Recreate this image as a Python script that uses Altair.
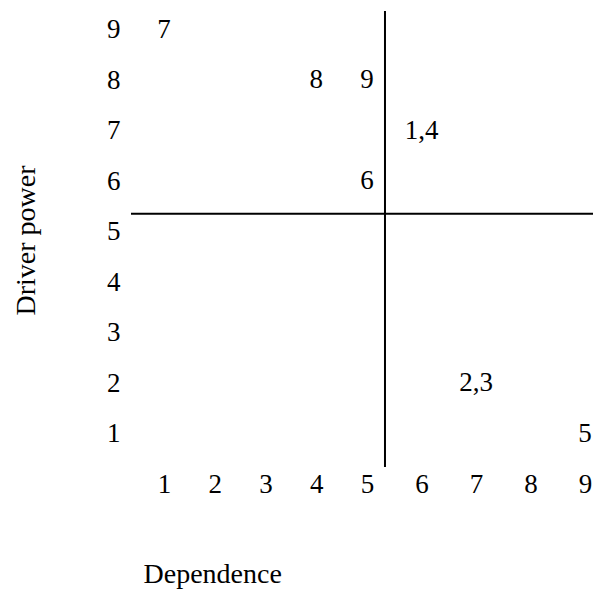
import altair as alt
import pandas as pd

# Variables plotted in the driver power / dependence matrix
var_labels = ["7", "8", "9", "1,4", "6", "2,3", "5"]
dependence = [1, 4, 5, 6, 5, 7, 9]
driver_power = [9, 8, 8, 7, 6, 2, 1]

# Tick labels
tick_values = [1, 2, 3, 4, 5, 6, 7, 8, 9]

# Quadrant dividers (data units)
dep_split = [5.33]
drv_split = [5.36]

FONT = "Liberation Serif"
FS = 27
TFS = 28
W, H = 462, 470

df = pd.DataFrame({"label": var_labels, "dep": dependence, "drv": driver_power})

# piecewise-linear x scale (the original grid is slightly wider on the right half)
xscale = alt.Scale(domain=[1, 5, 9], range=[33, 236, 454], nice=False, zero=False)
yscale = alt.Scale(domain=[0.287, 9.594], nice=False, zero=False)

xaxis = alt.Axis(
    values=tick_values, format="d", domain=False, ticks=False, grid=False,
    labelFont=FONT, labelFontSize=FS, labelColor="black", labelPadding=1,
    labelFlush=False, labelOverlap=False,
    title="Dependence", titleFont=FONT, titleFontSize=TFS, titleFontWeight="normal",
    titleColor="black", titleAlign="left", titleBaseline="alphabetic",
    titleX=12, titleY=112,
)
yaxis = alt.Axis(
    values=tick_values, format="d", domain=False, ticks=False, grid=False,
    labelFont=FONT, labelFontSize=FS, labelColor="black", labelPadding=11,
    labelFlush=False, labelOverlap=False, labelBaseline="middle",
    title="Driver power", titleFont=FONT, titleFontSize=TFS, titleFontWeight="normal",
    titleColor="black", titleAlign="center", titleBaseline="middle", titleAngle=-90,
    titleX=-105, titleY=240,
)

points = alt.Chart(df).mark_text(
    font=FONT, fontSize=FS, color="black", align="center", baseline="middle"
).encode(
    x=alt.X("dep:Q", scale=xscale, axis=xaxis),
    y=alt.Y("drv:Q", scale=yscale, axis=yaxis),
    text="label:N",
)

vline = alt.Chart(pd.DataFrame({"v": dep_split})).mark_rule(
    color="black", strokeWidth=2, clip=False
).encode(
    x=alt.X("v:Q", scale=xscale),
    y=alt.value(11),
    y2=alt.value(467),
)

hline = alt.Chart(pd.DataFrame({"v": drv_split})).mark_rule(
    color="black", strokeWidth=2, clip=False
).encode(
    y=alt.Y("v:Q", scale=yscale),
    x=alt.value(0),
    x2=alt.value(W),
)

chart = alt.layer(points, vline, hline).properties(
    width=W, height=H,
    autosize=alt.AutoSizeParams(type="none"),
    padding={"left": 131, "top": 0, "right": 0, "bottom": 124},
    background="white",
).configure_view(stroke=None)

chart.save("out.html", embed_options={"renderer": "svg", "actions": False})
